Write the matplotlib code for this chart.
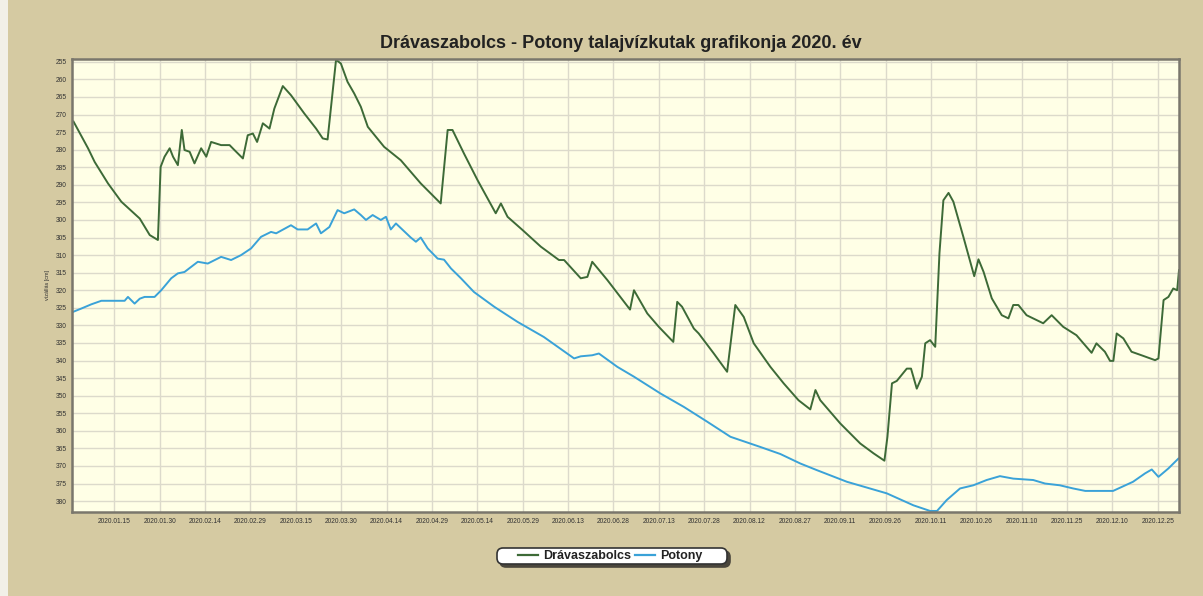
import matplotlib.pyplot as plt
import matplotlib.dates as mdates
from matplotlib.patches import FancyBboxPatch
from matplotlib.transforms import IdentityTransform
import pandas as pd

# nap (2020.01.01-tol szamolva) es vizallas [cm]
drava_day = [0.5, 5.3, 7.5, 11.9, 16.3, 22.4, 25.7, 28.4, 29.3, 30.6, 32.3, 33.4, 35.0, 36.3, 37.2,
             38.9, 40.5, 42.7, 44.4, 46.0, 49.3, 52.1, 53.7, 56.5, 58.1, 59.8, 61.2, 63.1, 65.3,
             66.9, 69.7, 72.4, 76.8, 80.7, 82.9, 84.5, 87.3, 88.9, 91.1, 93.3, 95.5, 97.8, 103.2,
             108.7, 115.3, 121.9, 124.2, 125.8, 129.6, 134.1, 140.1, 141.8, 144.0, 149.0, 155.0,
             161.0, 162.7, 168.2, 170.4, 172.0, 177.0, 184.5, 185.8, 190.2, 194.0, 198.8, 200.1,
             201.7, 205.6, 207.2, 212.2, 216.6, 219.3, 222.1, 225.4, 230.9, 235.3, 240.2, 244.1,
             245.8, 247.4, 254.0, 260.6, 265.0, 268.6, 269.6, 271.1, 272.7, 276.0, 277.4, 279.3,
             281.0, 282.1, 283.7, 285.4, 286.8, 288.1, 289.8, 291.4, 294.7, 298.3, 299.7, 301.4,
             304.1, 307.4, 309.6, 311.2, 312.9, 315.6, 321.1, 323.9, 327.7, 332.1, 337.1, 338.7,
             341.5, 343.2, 344.3, 345.4, 347.6, 350.3, 353.6, 358.1, 359.2, 360.9, 362.5, 364.1,
             365.4, 366.0]
drava_val = [272.0, 279.6, 283.5, 289.6, 294.8, 299.6, 304.3, 305.7, 284.9, 282.0, 279.6, 282.0, 284.4, 274.4, 280.1,
             280.6, 283.9, 279.6, 282.0, 277.8, 278.7, 278.7, 280.1, 282.5, 275.9, 275.4, 277.8, 272.5, 274.0,
             268.3, 261.9, 264.5, 269.7, 274.0, 276.8, 277.1, 254.4, 255.5, 260.7, 264.0, 267.8, 273.5, 279.2,
             283.0, 289.6, 295.3, 274.4, 274.4, 281.1, 288.7, 298.1, 295.3, 299.1, 302.9, 307.6,
             311.4, 311.4, 316.6, 316.2, 311.9, 317.1, 325.5, 320.0, 326.6, 330.4, 334.7, 323.3,
             324.7, 330.9, 332.3, 338.0, 343.2, 324.2, 327.6, 335.1, 341.8, 346.5, 351.3, 353.9,
             348.4, 351.3, 357.9, 363.6, 366.4, 368.5, 361.7, 346.5, 345.8, 342.3, 342.3, 348.0,
             344.6, 335.1, 334.2, 336.1, 309.5, 294.4, 292.3, 294.8, 304.8, 316.0, 311.2, 314.8,
             322.3, 327.1, 328.0, 324.2, 324.2, 327.1, 329.4, 327.1, 330.4, 332.8, 337.8, 335.1,
             337.5, 340.1, 340.1, 332.3, 333.7, 337.5, 338.5, 339.9, 339.4, 322.8, 321.9, 319.5,
             320.0, 314.3]

potony_day = [0.5, 3.1, 6.4, 9.7, 17.4, 18.5, 20.7, 22.4, 24.0, 27.3, 29.5, 32.8, 35.0, 37.2, 41.6,
              44.9, 49.3, 52.6, 55.9, 59.2, 62.5, 65.8, 67.5, 72.4, 74.6, 77.9, 80.7, 82.3, 85.1,
              87.8, 90.0, 93.3, 95.5, 97.2, 99.4, 102.1, 103.8, 105.4, 107.1, 112.0, 113.7, 115.3,
              117.6, 120.9, 123.0, 125.3, 128.6, 132.9, 139.6, 147.3, 156.0, 166.0, 168.2, 172.0,
              174.2, 180.3, 185.8, 194.6, 202.3, 210.0, 217.7, 227.6, 234.2, 240.8, 246.3, 256.2,
              269.4, 278.2, 283.7, 286.0, 289.2, 293.6, 298.0, 302.4, 306.8, 311.2, 317.8, 321.7,
              326.6, 331.0, 335.0, 344.2, 350.8, 354.8, 357.0, 359.2, 362.5, 365.8]
potony_val = [326.1, 325.2, 324.0, 323.0, 323.0, 321.9, 323.8, 322.4, 321.9, 321.9, 320.0, 316.6, 315.2, 314.8, 311.9,
              312.4, 310.5, 311.4, 310.0, 308.1, 304.8, 303.4, 303.8, 301.5, 302.7, 302.7, 301.0, 303.8, 302.0,
              297.2, 298.1, 297.0, 298.6, 300.0, 298.6, 300.0, 299.1, 302.7, 301.0, 305.0, 306.2, 305.0,
              308.1, 311.0, 311.3, 313.8, 316.6, 320.5, 324.7, 329.0, 333.3, 339.4, 338.8, 338.5,
              338.0, 341.8, 344.6, 349.4, 353.2, 357.4, 361.7, 364.6, 366.6, 369.3, 371.2, 374.5,
              377.8, 381.2, 382.8, 382.8, 379.7, 376.4, 375.5, 374.0, 372.9, 373.6, 374.0, 375.0,
              375.5, 376.4, 377.1, 377.1, 374.5, 372.1, 371.0, 373.1, 370.7, 367.9]

y_ticks = list(range(255, 381, 5))

start = pd.Timestamp("2020-01-01")
drava_dates = start + pd.to_timedelta(drava_day, unit="D")
potony_dates = start + pd.to_timedelta(potony_day, unit="D")
x_ticks = pd.date_range("2020-01-15", "2020-12-31", freq="15D")

W, H = 1203, 596
bg = "#D5CAA2"
fig = plt.figure(figsize=(W / 100, H / 100), dpi=100, facecolor=bg)
plt.rcParams['font.family'] = ['Liberation Sans', 'DejaVu Sans']

# világos szegély a bal oldalon
fig.patches.append(plt.Rectangle((0, 0), 8 / W, 1, transform=fig.transFigure,
                                 facecolor="#F2F0E8", edgecolor="none", zorder=0))

ax = fig.add_axes([72 / W, 1 - 512 / H, 1107 / W, 453 / H])
ax.set_facecolor("#FFFFE6")

ax.plot(drava_dates, drava_val, color="#3D6A37", linewidth=1.4, label="Drávaszabolcs")
ax.plot(potony_dates, potony_val, color="#3AA2D8", linewidth=1.4, label="Potony")

ax.set_xlim(start, pd.Timestamp("2021-01-01"))
ax.set_ylim(383.1, 254.2)
ax.set_yticks(y_ticks)
ax.set_xticks(x_ticks)
ax.xaxis.set_major_formatter(mdates.DateFormatter("%Y.%m.%d"))
ax.grid(True, color="#DCDACB", linewidth=1)
ax.set_axisbelow(True)
ax.tick_params(axis="both", length=0, labelsize=4.8, colors="#333333", pad=4)
for s in ax.spines.values():
    s.set_color("#7A776C")
    s.set_linewidth(1.8)

ax.set_ylabel("vízállás [cm]", fontsize=4, color="#333333", labelpad=4)

fig.text(621 / W, 1 - 43 / H, "Drávaszabolcs - Potony talajvízkutak grafikonja 2020. év",
         ha="center", va="center", fontsize=13, fontweight="bold", color="#222222")

# jelmagyarázat kerete (lekerekített, árnyékkal), pixelben
for off, fc, ec in [(3, "#4A463C", "#4A463C"), (0, "white", "#333333")]:
    box = FancyBboxPatch((497 + off, H - 564 - off), 230, 16,
                         boxstyle="round,pad=0,rounding_size=6",
                         transform=IdentityTransform(), facecolor=fc, edgecolor=ec,
                         linewidth=1.2)
    fig.patches.append(box)

leg = fig.legend(loc="center", bbox_to_anchor=(610 / W, 1 - 556 / H), ncol=2,
                 frameon=False, handlelength=1.6, columnspacing=0.3, handletextpad=0.4,
                 borderpad=0.1, prop={"size": 9, "weight": "bold"})
leg.set_zorder(5)
for line in leg.get_lines():
    line.set_linewidth(1.6)
for txt in leg.get_texts():
    txt.set_color("#222222")

fig.savefig("out.png", dpi=100, facecolor=bg)
